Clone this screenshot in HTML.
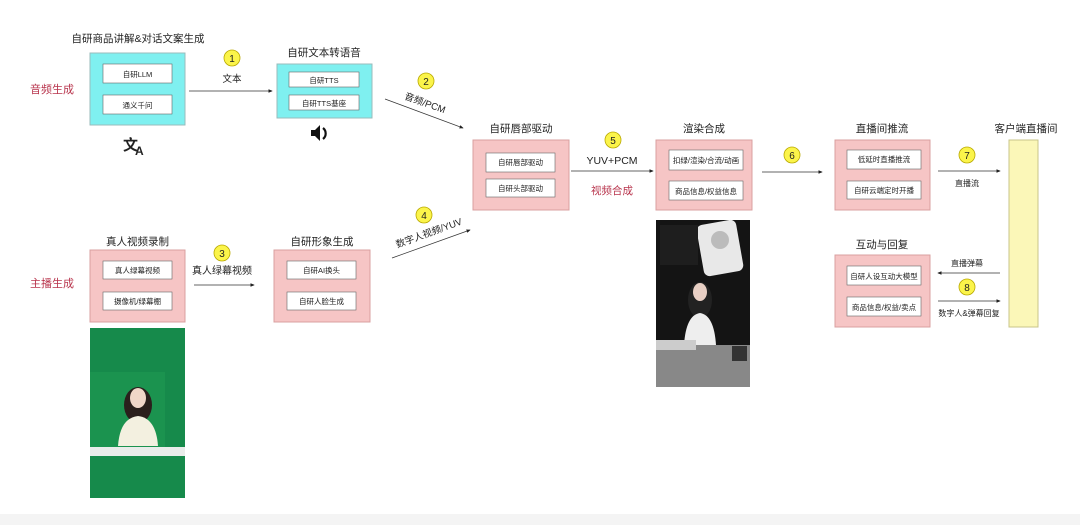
<!DOCTYPE html>
<html><head><meta charset="utf-8"><style>
body{margin:0;width:1080px;height:525px;background:#fff;overflow:hidden}
svg text{font-family:"Liberation Sans","Noto Sans CJK SC",sans-serif;fill:#222}
</style></head><body>
<svg width="1080" height="525" viewBox="0 0 1080 525" xmlns="http://www.w3.org/2000/svg">
<defs><marker id="a" markerWidth="6" markerHeight="6" refX="5" refY="3" orient="auto"><path d="M0,0.5 L6,3 L0,5.5z" fill="#222"/></marker></defs>
<rect x="0" y="514" width="1080" height="11" fill="#f4f4f4"/>
<g font-size="11">
<text x="30" y="93" style="fill:#b8344c" font-size="11">音频生成</text>
<text x="30" y="287" style="fill:#b8344c" font-size="11">主播生成</text>
</g>
<rect x="90" y="53" width="95" height="72" fill="#7ff0f0" stroke="#9bb" />
<rect x="103" y="64" width="69" height="19" fill="#fff" stroke="#666" stroke-width=".6"/>
<rect x="103" y="95" width="69" height="19" fill="#fff" stroke="#666" stroke-width=".6"/>
<text x="137.5" y="77" font-size="7.5" text-anchor="middle">自研LLM</text>
<text x="137.5" y="108" font-size="7.5" text-anchor="middle">通义千问</text>
<text x="138" y="42" font-size="10.5" text-anchor="middle">自研商品讲解&amp;对话文案生成</text>
<text x="123" y="150" font-size="15" font-weight="bold">文</text><text x="135" y="155" font-size="12" font-weight="bold">A</text>

<rect x="277" y="64" width="95" height="54" fill="#7ff0f0" stroke="#9bb"/>
<rect x="289" y="72" width="70" height="15" fill="#fff" stroke="#666" stroke-width=".6"/>
<rect x="289" y="95" width="70" height="15" fill="#fff" stroke="#666" stroke-width=".6"/>
<text x="324" y="83" font-size="7.5" text-anchor="middle">自研TTS</text>
<text x="324" y="106" font-size="7.5" text-anchor="middle">自研TTS基座</text>
<text x="324" y="56" font-size="10.5" text-anchor="middle">自研文本转语音</text>
<path d="M311,130 h4 l5,-5 v16 l-5,-5 h-4z" fill="#111"/>
<path d="M323,128 a7,7 0 0 1 0,11" stroke="#111" stroke-width="2.2" fill="none"/>

<g fill="#f6c5c5" stroke="#d9a0a0">
<rect x="90" y="250" width="95" height="72"/>
<rect x="274" y="250" width="96" height="72"/>
<rect x="473" y="140" width="96" height="70"/>
<rect x="656" y="140" width="96" height="70"/>
<rect x="835" y="140" width="95" height="70"/>
<rect x="835" y="255" width="95" height="72"/>
</g>
<rect x="1009" y="140" width="29" height="187" fill="#fbf7b8" stroke="#c8c48a"/>
<g fill="#fff" stroke="#666" stroke-width=".6">
<rect x="103" y="261" width="69" height="18"/><rect x="103" y="292" width="69" height="18"/>
<rect x="287" y="261" width="69" height="18"/><rect x="287" y="292" width="69" height="18"/>
<rect x="486" y="153" width="69" height="19"/><rect x="486" y="179" width="69" height="18"/>
<rect x="669" y="150" width="74" height="20"/><rect x="669" y="181" width="74" height="19"/>
<rect x="847" y="150" width="74" height="19"/><rect x="847" y="181" width="74" height="18"/>
<rect x="847" y="266" width="74" height="19"/><rect x="847" y="297" width="74" height="19"/>
</g>
<g font-size="7.5" text-anchor="middle">
<text x="137.5" y="273">真人绿幕视频</text><text x="137.5" y="304">摄像机/绿幕棚</text>
<text x="321.5" y="273">自研AI换头</text><text x="321.5" y="304">自研人脸生成</text>
<text x="520.5" y="165">自研唇部驱动</text><text x="520.5" y="191">自研头部驱动</text>
<text x="706" y="163">扣绿/渲染/合流/动画</text><text x="706" y="194">商品信息/权益信息</text>
<text x="884" y="162">低延时直播推流</text><text x="884" y="193">自研云端定时开播</text>
<text x="884" y="279">自研人设互动大模型</text><text x="884" y="310">商品信息/权益/卖点</text>
</g>
<g font-size="10.5" text-anchor="middle">
<text x="137.5" y="245">真人视频录制</text><text x="322" y="245">自研形象生成</text>
<text x="521" y="132">自研唇部驱动</text><text x="704" y="132">渲染合成</text>
<text x="882" y="132">直播间推流</text><text x="882" y="248">互动与回复</text>
<text x="1026" y="132">客户端直播间</text>
</g>
<g stroke="#333" stroke-width=".7" marker-end="url(#a)">
<line x1="189" y1="91" x2="272" y2="91"/>
<line x1="385" y1="99" x2="463" y2="128"/>
<line x1="194" y1="285" x2="254" y2="285"/>
<line x1="392" y1="258" x2="470" y2="230"/>
<line x1="571" y1="171" x2="653" y2="171"/>
<line x1="762" y1="172" x2="822" y2="172"/>
<line x1="938" y1="171" x2="1000" y2="171"/>
<line x1="1000" y1="273" x2="938" y2="273"/>
<line x1="938" y1="301" x2="1000" y2="301"/>
</g>
<g fill="#fbf44a" stroke="#b8a800" stroke-width=".8">
<circle cx="232" cy="58" r="8"/><circle cx="426" cy="81" r="8"/><circle cx="222" cy="253" r="8"/>
<circle cx="424" cy="215" r="8"/><circle cx="613" cy="140" r="8"/><circle cx="792" cy="155" r="8"/>
<circle cx="967" cy="155" r="8"/><circle cx="967" cy="287" r="8"/>
</g>
<g font-size="10" text-anchor="middle">
<text x="232" y="62">1</text><text x="426" y="85">2</text><text x="222" y="257">3</text><text x="424" y="219">4</text>
<text x="613" y="144">5</text><text x="792" y="159">6</text><text x="967" y="159">7</text><text x="967" y="291">8</text>
<text x="232" y="82" font-size="9.5">文本</text>
<text x="222" y="274" font-size="10">真人绿幕视频</text>
<text x="612" y="164" font-size="10.5">YUV+PCM</text>
<text x="612" y="194" font-size="10.5" style="fill:#b8344c">视频合成</text>
<text x="967" y="186" font-size="8">直播流</text>
<text x="967" y="266" font-size="8">直播弹幕</text>
<text x="969" y="316" font-size="8">数字人&amp;弹幕回复</text>
<text transform="translate(424,106) rotate(20)" font-size="9.5">音频/PCM</text>
<text transform="translate(430,236) rotate(-20)" font-size="9.5">数字人视频/YUV</text>
</g>
<rect x="90" y="328" width="95" height="170" fill="#168a4b"/>
<rect x="90" y="372" width="75" height="75" fill="#1f9a52" opacity=".6"/>
<rect x="90" y="447" width="95" height="9" fill="#e9ecea"/>
<ellipse cx="138" cy="405" rx="14" ry="18" fill="#2a1f1c"/>
<ellipse cx="138" cy="398" rx="8" ry="10" fill="#f0d6c8"/>
<path d="M118,446 q2,-28 20,-30 q18,2 20,30z" fill="#f3f0e0"/>
<rect x="656" y="220" width="94" height="167" fill="#141414"/>
<rect x="700" y="222" width="40" height="52" rx="6" fill="#e8e8e8" transform="rotate(-10 720 248)"/>
<circle cx="720" cy="240" r="9" fill="#bbb"/>
<rect x="660" y="225" width="38" height="40" fill="#1e1e1e"/>
<ellipse cx="700" cy="300" rx="12" ry="18" fill="#222"/>
<ellipse cx="700" cy="292" rx="7" ry="9" fill="#e8cfc4"/>
<path d="M684,345 q2,-30 16,-32 q14,2 16,32z" fill="#eee"/>
<rect x="656" y="345" width="94" height="42" fill="#888"/>
<rect x="656" y="340" width="40" height="10" fill="#ccc"/>
<rect x="732" y="346" width="15" height="15" fill="#333"/>
</svg>
</body></html>
